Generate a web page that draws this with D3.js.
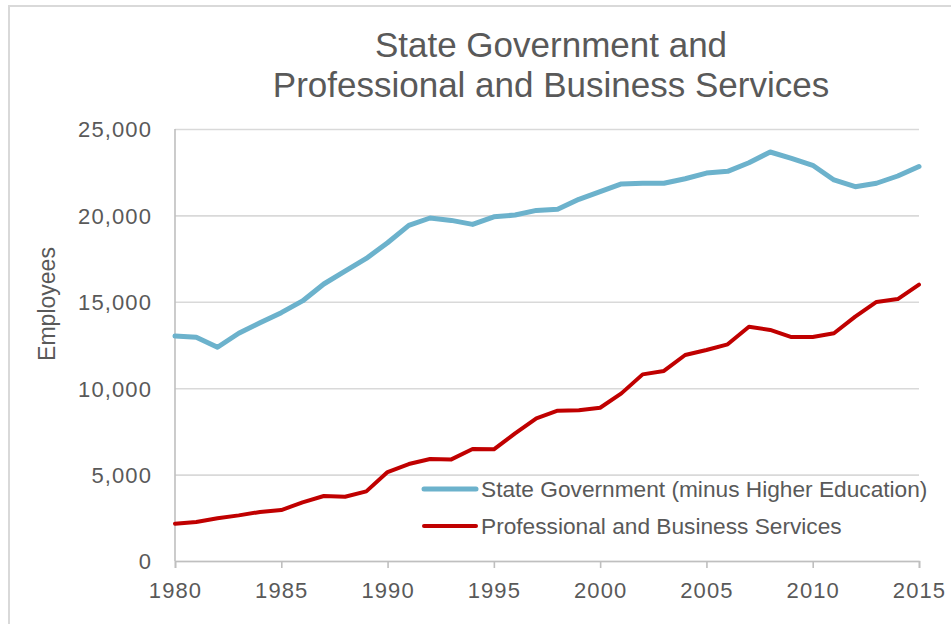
<!DOCTYPE html>
<html>
<head>
<meta charset="utf-8">
<script src="https://cdn.jsdelivr.net/npm/d3@7"></script>
<style>
  html, body { margin: 0; padding: 0; background: #ffffff; }
  svg { display: block; }
  text { font-family: "Liberation Sans", Arial, sans-serif; fill: #595959; }
</style>
</head>
<body>
<svg id="chart" width="951" height="624"></svg>
<script>
// Annual employment, 1980–2015
const years = [1980, 1981, 1982, 1983, 1984, 1985, 1986, 1987, 1988, 1989,
               1990, 1991, 1992, 1993, 1994, 1995, 1996, 1997, 1998, 1999,
               2000, 2001, 2002, 2003, 2004, 2005, 2006, 2007, 2008, 2009,
               2010, 2011, 2012, 2013, 2014, 2015];

const stateGov = [13020, 12950, 12370, 13180, 13790, 14370, 15050, 16030, 16780, 17510,
                  18420, 19420, 19850, 19710, 19480, 19920, 20020, 20290, 20350, 20930,
                  21370, 21820, 21860, 21860, 22120, 22450, 22550, 23050, 23670, 23300,
                  22900, 22050, 21660, 21860, 22280, 22830];

const proBusiness = [2160, 2260, 2470, 2640, 2840, 2950, 3390, 3760, 3720, 4030,
                     5150, 5610, 5900, 5880, 6480, 6460, 7390, 8260, 8700, 8720,
                     8870, 9700, 10800, 11000, 11920, 12210, 12540, 13560, 13370, 12960,
                     12960, 13180, 14140, 14990, 15160, 15990];

const seriesNames = ["State Government (minus Higher Education)", "Professional and Business Services"];
const seriesColors = ["#6CB2CC", "#C00000"];
const titleLines = ["State Government and", "Professional and Business Services"];
const yTicks = [0, 5000, 10000, 15000, 20000, 25000];
const xTicks = [1980, 1985, 1990, 1995, 2000, 2005, 2010, 2015];
const yLabel = "Employees";

const svg = d3.select("#chart");

// Outer chart frame
svg.append("rect")
  .attr("x", 9).attr("y", 6)
  .attr("width", 1000).attr("height", 700)
  .attr("fill", "none")
  .attr("stroke", "#d9d9d9")
  .attr("stroke-width", 2);

const x = d3.scaleLinear().domain([1980, 2015]).range([175, 919]);
const y = d3.scaleLinear().domain([0, 25000]).range([561, 129]);

// Title
svg.append("text")
  .attr("x", 551).attr("text-anchor", "middle")
  .style("font-size", "35px")
  .selectAll("tspan")
  .data(titleLines)
  .join("tspan")
  .attr("x", 551)
  .attr("y", (d, i) => 57 + i * 40)
  .text(d => d);

// Horizontal gridlines and y tick labels
const yAxis = d3.axisLeft(y)
  .tickValues(yTicks)
  .tickFormat(d3.format(","))
  .tickSize(-(x.range()[1] - x.range()[0]))
  .tickPadding(23);

const gy = svg.append("g")
  .attr("transform", `translate(${x.range()[0]},0)`)
  .call(yAxis);
gy.select(".domain").remove();
gy.selectAll(".tick line").attr("stroke", "#d9d9d9").attr("stroke-width", 1.6);
gy.selectAll(".tick text")
  .style("font-size", "22px")
  .style("letter-spacing", "1.1px")
  .style("font-family", "'Liberation Sans', Arial, sans-serif")
  .attr("fill", "#595959")
  .attr("dy", "0.36em");

// Vertical axis line
svg.append("line")
  .attr("x1", x.range()[0]).attr("x2", x.range()[0])
  .attr("y1", y(25000)).attr("y2", y(0))
  .attr("stroke", "#bfbfbf").attr("stroke-width", 1.6);

// X axis
const xAxis = d3.axisBottom(x)
  .tickValues(xTicks)
  .tickFormat(d3.format("d"))
  .tickSizeOuter(0)
  .tickSize(7)
  .tickPadding(14);

const gx = svg.append("g")
  .attr("transform", `translate(0,${y(0)})`)
  .call(xAxis);
gx.select(".domain").attr("stroke", "#bfbfbf").attr("stroke-width", 1.6);
gx.selectAll(".tick line").attr("stroke", "#bfbfbf").attr("stroke-width", 1.6);
gx.selectAll(".tick text")
  .style("font-size", "22px")
  .style("letter-spacing", "1.1px")
  .style("font-family", "'Liberation Sans', Arial, sans-serif")
  .attr("fill", "#595959");

// Y axis title
svg.append("text")
  .attr("transform", "translate(55,304) rotate(-90)")
  .attr("text-anchor", "middle")
  .style("font-size", "23px")
  .text(yLabel);

// Series lines
const line = d3.line()
  .x((d, i) => x(years[i]))
  .y(d => y(d));

const seriesData = [stateGov, proBusiness];
const widths = [5, 4];

svg.append("g")
  .selectAll("path")
  .data(seriesData)
  .join("path")
  .attr("d", d => line(d))
  .attr("fill", "none")
  .attr("stroke", (d, i) => seriesColors[i])
  .attr("stroke-width", (d, i) => widths[i])
  .attr("stroke-linejoin", "round")
  .attr("stroke-linecap", "round");

// Legend
const legend = svg.append("g");
const legendItems = legend.selectAll("g")
  .data(seriesNames)
  .join("g")
  .attr("transform", (d, i) => `translate(424,${489 + i * 37})`);

legendItems.append("line")
  .attr("x1", 0).attr("x2", 52)
  .attr("y1", 0).attr("y2", 0)
  .attr("stroke", (d, i) => seriesColors[i])
  .attr("stroke-width", (d, i) => widths[i])
  .attr("stroke-linecap", "round");

legendItems.append("text")
  .attr("x", 57)
  .attr("y", 8)
  .style("font-size", "22.7px")
  .text(d => d);
</script>
</body>
</html>
